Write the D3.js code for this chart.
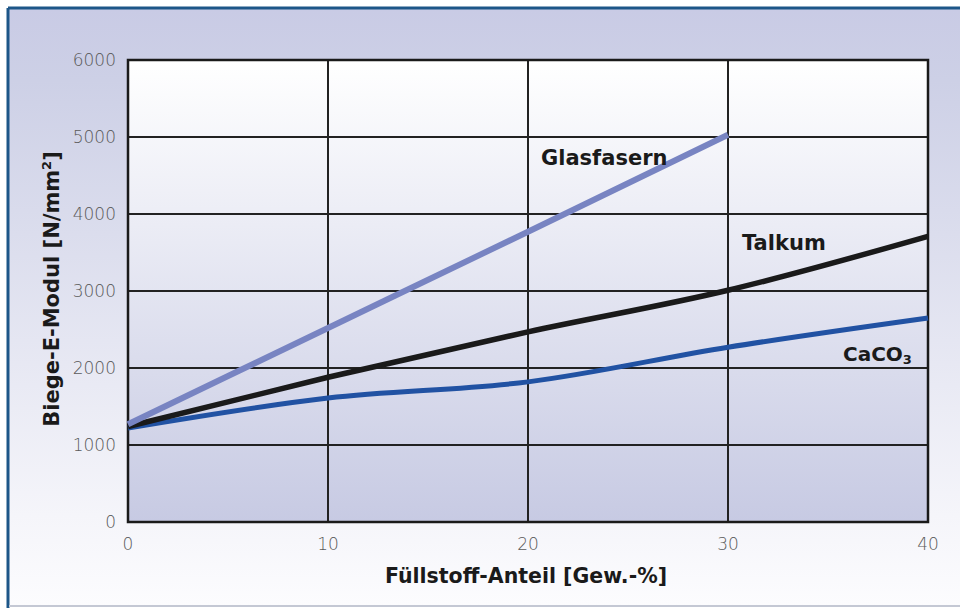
<!DOCTYPE html>
<html>
<head>
<meta charset="utf-8">
<script src="https://cdn.jsdelivr.net/npm/d3@7"></script>
<style>
  body { margin: 0; background: #fff; }
  svg { display: block; }
</style>
</head>
<body>
<script>
(function() {

  // data
  let xTicks = [0, 10, 20, 30, 40];
  let yTicks = [0, 1000, 2000, 3000, 4000, 5000, 6000];

  let glasX = [0, 10, 20, 30];
  let glasY = [1270, 2520, 3770, 5030];

  let talkumX = [0, 10, 20, 30, 40];
  let talkumY = [1240, 1880, 2470, 3010, 3710];

  let cacoX = [0, 10, 20, 30, 40];
  let cacoY = [1220, 1610, 1820, 2270, 2650];

  let svg = d3.select("body")
    .append("svg")
    .attr("width", 960)
    .attr("height", 608);

  let defs = svg.append("defs");

  // outer background, lavender at top fading to white
  let bgGrad = defs.append("linearGradient")
    .attr("id", "bgGrad")
    .attr("x1", 0).attr("y1", 0).attr("x2", 0).attr("y2", 1);
  bgGrad.append("stop").attr("offset", "0%").attr("stop-color", "#c9cbe5");
  bgGrad.append("stop").attr("offset", "12%").attr("stop-color", "#cdd0e6");
  bgGrad.append("stop").attr("offset", "85%").attr("stop-color", "#f5f5fa");
  bgGrad.append("stop").attr("offset", "100%").attr("stop-color", "#fcfcfe");

  // plot area, white at top fading to lavender
  let plotGrad = defs.append("linearGradient")
    .attr("id", "plotGrad")
    .attr("x1", 0).attr("y1", 0).attr("x2", 0).attr("y2", 1);
  plotGrad.append("stop").attr("offset", "0%").attr("stop-color", "#ffffff");
  plotGrad.append("stop").attr("offset", "100%").attr("stop-color", "#c7cae3");

  svg.append("rect")
    .attr("x", 0).attr("y", 0)
    .attr("width", 960).attr("height", 608)
    .attr("fill", "#ffffff");

  svg.append("rect")
    .attr("x", 9).attr("y", 9)
    .attr("width", 951).attr("height", 596)
    .attr("fill", "url(#bgGrad)");

  // frame lines: dark blue top and left, light grey bottom
  svg.append("line")
    .attr("x1", 8).attr("y1", 8).attr("x2", 960).attr("y2", 8)
    .attr("stroke", "#1d5688").attr("stroke-width", 3);
  svg.append("line")
    .attr("x1", 8).attr("y1", 8).attr("x2", 8).attr("y2", 608)
    .attr("stroke", "#1d5688").attr("stroke-width", 3);
  svg.append("line")
    .attr("x1", 9).attr("y1", 606).attr("x2", 960).attr("y2", 606)
    .attr("stroke", "#c4c8d4").attr("stroke-width", 2);

  let left = 128, right = 928, top = 60, bottom = 522;

  let xScale = d3.scaleLinear().domain([0, 40]).range([left, right]);
  let yScale = d3.scaleLinear().domain([0, 6000]).range([bottom, top]);

  svg.append("rect")
    .attr("x", left).attr("y", top)
    .attr("width", right - left).attr("height", bottom - top)
    .attr("fill", "url(#plotGrad)");

  // grid lines
  svg.append("g")
    .selectAll("line")
    .data(xTicks)
    .enter()
    .append("line")
      .attr("x1", (d) => xScale(d))
      .attr("x2", (d) => xScale(d))
      .attr("y1", top)
      .attr("y2", bottom)
      .attr("stroke", "#222")
      .attr("stroke-width", 2);

  svg.append("g")
    .selectAll("line")
    .data(yTicks)
    .enter()
    .append("line")
      .attr("x1", left)
      .attr("x2", right)
      .attr("y1", (d) => yScale(d))
      .attr("y2", (d) => yScale(d))
      .attr("stroke", "#222")
      .attr("stroke-width", 2);

  svg.append("rect")
    .attr("x", left).attr("y", top)
    .attr("width", right - left).attr("height", bottom - top)
    .attr("fill", "none")
    .attr("stroke", "#1a1a1a")
    .attr("stroke-width", 2.5);

  // tick labels
  let tickFont = "'DejaVu Sans', sans-serif";

  svg.append("g")
    .selectAll("text")
    .data(yTicks)
    .enter()
    .append("text")
      .attr("x", 116)
      .attr("y", (d) => yScale(d) + 6)
      .attr("text-anchor", "end")
      .style("font-family", tickFont)
      .style("font-weight", "200")
      .style("font-size", "17px")
      .style("fill", "#5a5a5a")
      .text((d) => d);

  svg.append("g")
    .selectAll("text")
    .data(xTicks)
    .enter()
    .append("text")
      .attr("x", (d) => xScale(d))
      .attr("y", 550)
      .attr("text-anchor", "middle")
      .style("font-family", tickFont)
      .style("font-weight", "200")
      .style("font-size", "17px")
      .style("fill", "#5a5a5a")
      .text((d) => d);

  // series lines
  function drawSeries(xs, ys, color, width) {
    let pts = xs.map((x, i) => [x, ys[i]]);
    let line = d3.line()
      .x((d) => xScale(d[0]))
      .y((d) => yScale(d[1]))
      .curve(d3.curveMonotoneX);
    svg.append("path")
      .datum(pts)
      .attr("d", line)
      .attr("fill", "none")
      .attr("stroke", color)
      .attr("stroke-width", width)
      .attr("stroke-linecap", "butt");
  }

  drawSeries(cacoX, cacoY, "#2152a3", 5);
  drawSeries(talkumX, talkumY, "#1a1a1a", 5.5);
  drawSeries(glasX, glasY, "#7884c2", 6);

  // series labels
  let labelFont = "'DejaVu Sans', sans-serif";

  svg.append("text")
    .attr("x", 541).attr("y", 165)
    .style("font-family", labelFont)
    .style("font-weight", "bold")
    .style("font-size", "21px")
    .style("fill", "#1a1a1a")
    .text("Glasfasern");

  svg.append("text")
    .attr("x", 742).attr("y", 250)
    .style("font-family", labelFont)
    .style("font-weight", "bold")
    .style("font-size", "21px")
    .style("fill", "#1a1a1a")
    .text("Talkum");

  let caco = svg.append("text")
    .attr("x", 843).attr("y", 361)
    .style("font-family", labelFont)
    .style("font-weight", "bold")
    .style("font-size", "20px")
    .style("fill", "#1a1a1a");
  caco.append("tspan").text("CaCO");
  caco.append("tspan")
    .attr("dy", 3)
    .style("font-size", "13px")
    .text("3");

  // axis titles
  svg.append("text")
    .attr("x", 526).attr("y", 583)
    .attr("text-anchor", "middle")
    .style("font-family", labelFont)
    .style("font-weight", "bold")
    .style("font-size", "20.5px")
    .style("fill", "#1a1a1a")
    .text("Füllstoff-Anteil [Gew.-%]");

  let yTitle = svg.append("text")
    .attr("transform", "translate(59, 289)rotate(-90)")
    .attr("text-anchor", "middle")
    .style("font-family", labelFont)
    .style("font-weight", "bold")
    .style("font-size", "21px")
    .style("fill", "#1a1a1a");
  yTitle.append("tspan").text("Biege-E-Modul [N/mm");
  yTitle.append("tspan")
    .attr("dy", -8)
    .style("font-size", "13px")
    .text("2");
  yTitle.append("tspan")
    .attr("dy", 8)
    .text("]");

})();
</script>
</body>
</html>
